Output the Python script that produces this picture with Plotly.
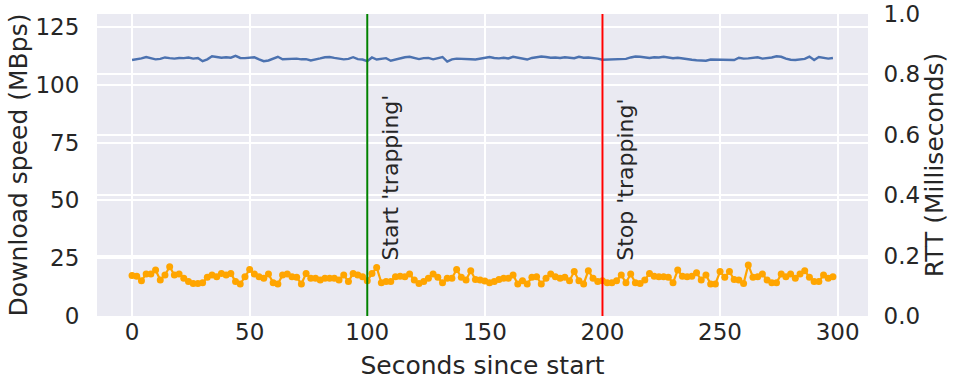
import plotly.graph_objects as go

seconds = list(range(0, 300, 2))

download_mbps = [
    110.7, 110.9, 111.4, 112.0, 111.6, 111.0, 111.2, 111.8, 111.5, 111.3,
    111.6, 111.5, 111.8, 111.3, 111.6, 110.2, 111.0, 112.3, 112.0, 111.7,
    111.9, 111.7, 112.5, 111.6, 111.5, 111.8, 111.9, 111.0, 110.2, 110.5,
    111.4, 112.1, 111.0, 111.2, 111.4, 111.3, 111.0, 111.1, 110.5, 110.8,
    111.4, 111.9, 112.0, 111.6, 111.3, 111.0, 111.2, 111.9, 111.1, 110.9,
    110.2,
    111.8, 110.9, 111.2, 111.5, 110.4, 111.0, 111.4, 111.9, 112.1, 111.5,
    111.1, 111.5, 111.6, 111.0, 111.5, 112.0, 110.0, 111.0, 111.3, 111.3,
    111.1, 111.0, 110.9, 111.3, 111.6, 112.0, 111.6, 111.4, 111.7, 111.4,
    112.1, 111.6, 111.2, 110.9, 111.6, 111.9, 112.2, 112.0, 111.7, 111.8,
    111.6, 111.9, 111.7, 111.5, 112.1, 111.7, 111.8, 111.6, 111.3,
    110.8, 110.9, 111.1, 111.0, 111.4, 111.2, 111.8, 112.2, 112.1, 111.8,
    111.6, 111.9, 111.8, 112.1, 111.9, 111.5, 111.7, 111.3, 110.9, 110.8,
    110.6, 110.4, 110.4, 110.9, 110.9, 111.0, 110.9, 110.9, 110.7, 111.7,
    111.3, 111.4, 111.5, 111.9, 111.3, 111.4, 111.8, 112.3, 112.1, 111.3,
    110.8, 110.7, 111.0, 111.2, 112.2, 110.7, 112.0, 111.6, 111.3, 111.6,
]

rtt_ms = [
    0.134, 0.132, 0.117, 0.139, 0.139, 0.152, 0.119, 0.136, 0.163, 0.136,
    0.139, 0.125, 0.114, 0.108, 0.108, 0.110, 0.128, 0.136, 0.130, 0.141,
    0.136, 0.141, 0.114, 0.106, 0.130,
    0.154, 0.139, 0.130, 0.125, 0.139, 0.110, 0.106, 0.136, 0.139, 0.130,
    0.128, 0.106, 0.141, 0.125, 0.125, 0.119, 0.125, 0.125, 0.125, 0.119,
    0.136, 0.114, 0.141, 0.136, 0.130,
    0.117, 0.141, 0.161, 0.110, 0.114, 0.114, 0.130, 0.132, 0.130, 0.139,
    0.119, 0.108, 0.114, 0.125, 0.139, 0.128, 0.110, 0.125, 0.125, 0.154,
    0.128, 0.119, 0.150, 0.121, 0.119,
    0.116, 0.110, 0.114, 0.121, 0.125, 0.125, 0.136, 0.106, 0.117, 0.106,
    0.128, 0.130, 0.106, 0.125, 0.139, 0.130, 0.125, 0.128, 0.117, 0.147,
    0.117, 0.106, 0.150, 0.125, 0.114,
    0.117, 0.110, 0.110, 0.117, 0.136, 0.110, 0.139, 0.110, 0.108, 0.119,
    0.141, 0.132, 0.130, 0.130, 0.128, 0.110, 0.152, 0.132, 0.130, 0.132,
    0.143, 0.119, 0.136, 0.106, 0.106,
    0.147, 0.128, 0.147, 0.121, 0.119, 0.108, 0.169, 0.128, 0.130, 0.139,
    0.119, 0.110, 0.110, 0.139, 0.130, 0.139, 0.125, 0.139, 0.150, 0.128,
    0.114, 0.114, 0.136, 0.125, 0.130,
]

x_ticks = [0, 50, 100, 150, 200, 250, 300]
left_ticks = [0, 25, 50, 75, 100, 125]
right_ticks = [0.0, 0.2, 0.4, 0.6, 0.8, 1.0]
right_tick_labels = ["0.0", "0.2", "0.4", "0.6", "0.8", "1.0"]

events = [(100, "green", "Start 'trapping'"), (200, "red", "Stop 'trapping'")]

FONT = "DejaVu Sans"
TXT = "#262626"
TICK = 23
TITLE = 25

fig = go.Figure()
fig.add_trace(go.Scatter(
    x=seconds, y=download_mbps, mode="lines",
    line=dict(color="#4C72B0", width=2.4), yaxis="y", showlegend=False))
fig.add_trace(go.Scatter(
    x=seconds, y=rtt_ms, mode="lines+markers",
    line=dict(color="orange", width=2.2), marker=dict(color="orange", size=7),
    yaxis="y2", showlegend=False))

for xv, col, label in events:
    fig.add_shape(type="line", x0=xv, x1=xv, y0=0, y1=1, xref="x", yref="paper",
                  line=dict(color=col, width=2))
    fig.add_annotation(x=xv, y=23, xref="x", yref="y", text=label, textangle=-90,
                       showarrow=False, xanchor="left", yanchor="bottom", xshift=9,
                       font=dict(family=FONT, size=22, color=TXT))

grid = "white"
fig.update_layout(
    width=953, height=385,
    margin=dict(l=97, r=85, t=14, b=69, autoexpand=False),
    paper_bgcolor="white", plot_bgcolor="#EAEAF2",
    font=dict(family=FONT, color=TXT),
    xaxis=dict(range=[-14.9, 312.9], tickvals=x_ticks, showgrid=True, gridcolor=grid,
               gridwidth=1.5, zeroline=False, showline=False, automargin=False,
               ticks="",
               tickfont=dict(size=TICK, color=TXT, family=FONT),
               title=dict(text="Seconds since start", font=dict(size=TITLE, color=TXT, family=FONT),
                          standoff=12)),
    yaxis=dict(range=[0, 130.6], tickvals=left_ticks, showgrid=True, gridcolor=grid,
               gridwidth=1.5, zeroline=False, showline=False, automargin=False,
               ticks="outside", ticklen=12, tickcolor="rgba(0,0,0,0)",
               ticklabeloverflow="allow",
               tickfont=dict(size=TICK, color=TXT, family=FONT),
               title=dict(text="Download speed (MBps)", font=dict(size=TITLE, color=TXT, family=FONT),
                          standoff=0)),
    yaxis2=dict(range=[0, 1], tickvals=right_ticks, ticktext=right_tick_labels,
                overlaying="y", side="right", showgrid=True, gridcolor=grid,
                gridwidth=1.5, zeroline=False, showline=False, automargin=False,
                ticks="outside", ticklen=10, tickcolor="rgba(0,0,0,0)",
                ticklabeloverflow="allow",
                tickfont=dict(size=TICK, color=TXT, family=FONT),
                title=dict(text="RTT (Milliseconds)", font=dict(size=TITLE, color=TXT, family=FONT),
                           standoff=5)),
)

fig.write_html("out.html", config={"displayModeBar": False},
               post_script="document.body.style.margin='0px';")
